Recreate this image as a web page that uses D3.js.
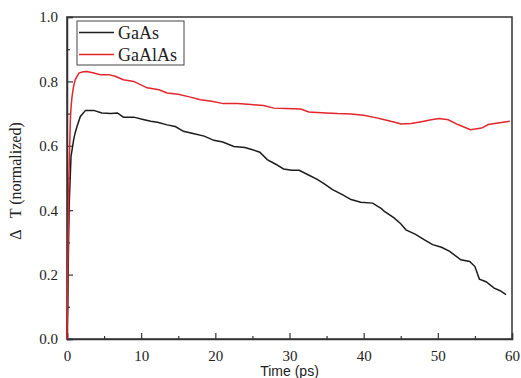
<!DOCTYPE html>
<html>
<head>
<meta charset="utf-8">
<script src="https://cdn.jsdelivr.net/npm/d3@7"></script>
<style>
  body { margin: 0; background: #fff; }
</style>
</head>
<body>
<div id="chart"></div>
<script>
const width = 521;
const height = 378;
const margin = { top: 17, right: 9, bottom: 39, left: 67 };
const serif = "'Liberation Serif', 'Times New Roman', serif";

// series (time in ps, normalized ΔT)
const gaasTime = [0, 0.1, 0.2, 0.3, 0.4, 0.54, 0.7, 0.9, 1.1, 1.35, 1.8, 2.5, 3.6, 4.7, 5.9, 6.8, 7.6, 9, 10.4, 11.3, 12.2, 13.5, 14.6, 15.7, 17, 18.5, 19.8, 21, 22.5, 24, 25, 26, 27, 28.2, 29.2, 30.3, 31.3, 32.5, 33.8, 34.8, 35.8, 37, 38.3, 39.6, 41.2, 42.4, 42.8, 44.1, 45, 45.7, 47, 48.2, 49.3, 50.5, 51.6, 53.1, 54.3, 55, 55.6, 56.5, 57.6, 58.4, 59.2];
const gaasSignal = [0.0, 0.1, 0.28, 0.42, 0.48, 0.567, 0.59, 0.619, 0.64, 0.66, 0.691, 0.71, 0.71, 0.702, 0.7, 0.702, 0.689, 0.689, 0.681, 0.676, 0.673, 0.665, 0.66, 0.645, 0.638, 0.63, 0.617, 0.612, 0.598, 0.595, 0.588, 0.58, 0.557, 0.542, 0.528, 0.524, 0.524, 0.51, 0.495, 0.48, 0.464, 0.45, 0.433, 0.425, 0.422, 0.405, 0.396, 0.376, 0.358, 0.339, 0.325, 0.308, 0.293, 0.285, 0.272, 0.246, 0.241, 0.225, 0.186, 0.178, 0.158, 0.15, 0.138];

const gaalasTime = [0, 0.15, 0.25, 0.35, 0.45, 0.55, 0.68, 0.85, 1.1, 1.6, 2.2, 2.7, 3.6, 4.5, 5.6, 6.5, 7.6, 9, 10.8, 12.4, 13.5, 15, 16.5, 18, 19.5, 21.1, 23, 24.8, 26.5, 27.9, 29.5, 31.5, 32.6, 34.9, 36.5, 38.3, 40, 41.9, 42.4, 44.6, 45, 46.4, 47.8, 49.1, 50.2, 51.4, 52.7, 54.4, 55.9, 56.8, 58.1, 59.7];
const gaalasSignal = [0.0, 0.3, 0.5, 0.588, 0.681, 0.72, 0.753, 0.78, 0.805, 0.826, 0.83, 0.831, 0.826, 0.821, 0.821, 0.816, 0.805, 0.8, 0.78, 0.774, 0.764, 0.76, 0.752, 0.743, 0.738, 0.731, 0.731, 0.728, 0.725, 0.717, 0.716, 0.714, 0.705, 0.702, 0.7, 0.699, 0.695, 0.686, 0.683, 0.671, 0.668, 0.669, 0.675, 0.681, 0.685, 0.681, 0.666, 0.65, 0.655, 0.666, 0.671, 0.676];

const xTicks = [0, 10, 20, 30, 40, 50, 60];
const xMinorTicks = [5, 15, 25, 35, 45, 55];
const yTicks = [0.0, 0.2, 0.4, 0.6, 0.8, 1.0];
const yMinorTicks = [0.1, 0.3, 0.5, 0.7, 0.9];
const seriesNames = ["GaAs", "GaAlAs"];
const seriesColors = ["#1c1c1c", "#e3262b"];

const svg = d3.select("#chart")
  .append("svg")
  .attr("width", width)
  .attr("height", height);

const xScale = d3.scaleLinear()
  .domain([0, 60])
  .range([margin.left, width - margin.right]);

const yScale = d3.scaleLinear()
  .domain([0, 1])
  .range([height - margin.bottom, margin.top]);

// frame
svg.append("rect")
  .attr("x", margin.left)
  .attr("y", margin.top)
  .attr("width", width - margin.left - margin.right)
  .attr("height", height - margin.top - margin.bottom)
  .attr("fill", "none")
  .attr("stroke", "#333")
  .attr("stroke-width", 1.5);

// inward ticks, major + minor
const xAxis = d3.axisBottom(xScale)
  .tickValues(xTicks)
  .tickSize(-6)
  .tickPadding(11)
  .tickFormat(d3.format("d"));

svg.append("g")
  .attr("class", "axis")
  .attr("transform", `translate(0, ${height - margin.bottom})`)
  .call(xAxis);

svg.append("g")
  .attr("transform", `translate(0, ${height - margin.bottom})`)
  .call(d3.axisBottom(xScale).tickValues(xMinorTicks).tickSize(-3).tickFormat(""))
  .call(g => g.select(".domain").remove());

const yAxis = d3.axisLeft(yScale)
  .tickValues(yTicks)
  .tickSize(-6)
  .tickPadding(9)
  .tickFormat(d3.format(".1f"));

svg.append("g")
  .attr("class", "axis")
  .attr("transform", `translate(${margin.left}, 0)`)
  .call(yAxis);

svg.append("g")
  .attr("transform", `translate(${margin.left}, 0)`)
  .call(d3.axisLeft(yScale).tickValues(yMinorTicks).tickSize(-3).tickFormat(""))
  .call(g => g.select(".domain").remove());

svg.selectAll(".domain").attr("stroke", "#333").attr("stroke-width", 1.5);
svg.selectAll(".tick line").attr("stroke", "#333").attr("stroke-width", 1.2);
svg.selectAll(".axis .tick text")
  .style("font-family", serif)
  .style("font-size", "15px")
  .style("fill", "#222");

// curves
const line = d3.line()
  .x(d => xScale(d[0]))
  .y(d => yScale(d[1]));

const gaasData = d3.zip(gaasTime, gaasSignal);
const gaalasData = d3.zip(gaalasTime, gaalasSignal);

svg.append("path")
  .datum(gaasData)
  .attr("fill", "none")
  .attr("stroke", seriesColors[0])
  .attr("stroke-width", 1.5)
  .attr("d", line);

svg.append("path")
  .datum(gaalasData)
  .attr("fill", "none")
  .attr("stroke", seriesColors[1])
  .attr("stroke-width", 1.5)
  .attr("d", line);

// axis titles
svg.append("text")
  .attr("x", xScale(30))
  .attr("y", 376)
  .attr("text-anchor", "middle")
  .style("font-family", "'Liberation Sans', Arial, sans-serif")
  .style("font-size", "14px")
  .attr("fill", "#222")
  .text("Time (ps)");

svg.append("text")
  .attr("transform", `translate(21, 181)rotate(-90)`)
  .attr("text-anchor", "middle")
  .style("font-family", serif)
  .style("font-size", "16px")
  .style("white-space", "pre")
  .attr("fill", "#222")
  .text("Δ   T (normalized)");

// legend
const legend = svg.append("g");
legend.append("rect")
  .attr("x", 77)
  .attr("y", 21)
  .attr("width", 107)
  .attr("height", 44)
  .attr("fill", "#fff")
  .attr("stroke", "#444")
  .attr("stroke-width", 1);

seriesNames.forEach((name, i) => {
  const yy = 32.5 + i * 22;
  legend.append("line")
    .attr("x1", 79)
    .attr("x2", 114)
    .attr("y1", yy)
    .attr("y2", yy)
    .attr("stroke", seriesColors[i])
    .attr("stroke-width", 1.5);
  legend.append("text")
    .attr("x", 118)
    .attr("y", yy + 6)
    .style("font-family", serif)
    .style("font-size", "18px")
    .attr("fill", "#222")
    .text(name);
});
</script>
</body>
</html>
